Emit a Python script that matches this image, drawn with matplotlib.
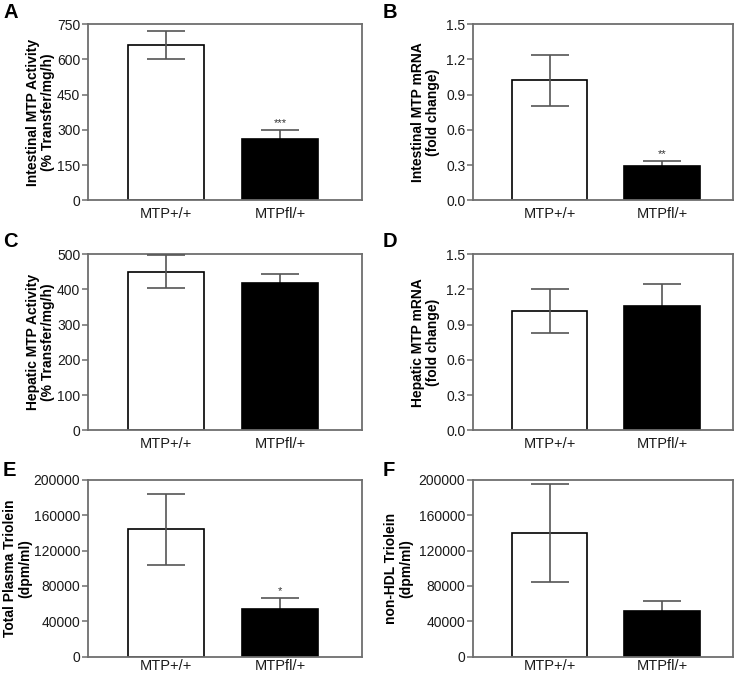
import numpy as np
import matplotlib.pyplot as plt

plt.rcParams['font.family'] = ['Liberation Sans', 'DejaVu Sans']

groups = ['MTP+/+', 'MTPfl/+']

# panel A: intestinal MTP activity
a_mean = [660, 262]
a_err = [60, 35]
# panel B: intestinal MTP mRNA
b_mean = [1.02, 0.295]
b_err = [0.22, 0.04]
# panel C: hepatic MTP activity
c_mean = [450, 418]
c_err = [46, 24]
# panel D: hepatic MTP mRNA
d_mean = [1.015, 1.06]
d_err = [0.185, 0.185]
# panel E: total plasma triolein
e_mean = [144000, 53500]
e_err = [40000, 13000]
# panel F: non-HDL triolein
f_mean = [139500, 51500]
f_err = [55500, 11500]

panels = [
    ('A', a_mean, a_err, 'Intestinal MTP Activity\n(% Transfer/mg/h)', [0, 150, 300, 450, 600, 750], '***'),
    ('B', b_mean, b_err, 'Intestinal MTP mRNA\n(fold change)', [0.0, 0.3, 0.6, 0.9, 1.2, 1.5], '**'),
    ('C', c_mean, c_err, 'Hepatic MTP Activity\n(% Transfer/mg/h)', [0, 100, 200, 300, 400, 500], ''),
    ('D', d_mean, d_err, 'Hepatic MTP mRNA\n(fold change)', [0.0, 0.3, 0.6, 0.9, 1.2, 1.5], ''),
    ('E', e_mean, e_err, 'Total Plasma Triolein\n(dpm/ml)', [0, 40000, 80000, 120000, 160000, 200000], '*'),
    ('F', f_mean, f_err, 'non-HDL Triolein\n(dpm/ml)', [0, 40000, 80000, 120000, 160000, 200000], ''),
]

W, H = 740, 677
fig = plt.figure(figsize=(W / 100, H / 100), dpi=100)

# pixel boxes
col_x = [(88, 362), (473, 733)]
row_y = [(24, 200.3), (254, 430.3), (480, 656.5)]
xlims = [(-0.684, 1.72), (-0.68, 1.63)]
letter_xy = [(3, 3), (383, 3), (3, 232), (383, 232), (3, 461), (383, 461)]
label_right = [55, 440, 55, 440, 32, 413]
xpad = [5, 5, 5, 5, 2, 2]

gray = '#6e6e6e'
for i, (lab, mean, err, ylab, ticks, star) in enumerate(panels):
    c, r = i % 2, i // 2
    x0, x1 = col_x[c]
    y0, y1 = row_y[r]
    ax = fig.add_axes([x0 / W, 1 - y1 / H, (x1 - x0) / W, (y1 - y0) / H])
    x = np.arange(2)
    ax.bar(x, mean, width=0.67, color=['white', 'black'], edgecolor='black', linewidth=1.2, zorder=2)
    for j in range(2):
        # error bar of the black bar sits behind it, so only its upper half shows
        ax.errorbar(x[j], mean[j], yerr=err[j], fmt='none', ecolor='#555555', elinewidth=1.2,
                    capsize=13.5, capthick=1.2, zorder=3 if j == 0 else 1)
    if star:
        ax.text(1, mean[1] + err[1] + ticks[-1] * 0.012, star, ha='center', va='bottom',
                fontsize=8, color='#333333')
    ax.set_xlim(*xlims[c])
    ax.set_ylim(0, ticks[-1])
    ax.set_yticks(ticks)
    if ticks[-1] == 1.5:
        ax.set_yticklabels(['%.1f' % t for t in ticks])
    else:
        ax.set_yticklabels(['%d' % t for t in ticks])
    ax.set_xticks(x)
    ax.set_xticklabels(groups)
    ax.tick_params(axis='x', length=0, pad=xpad[i], labelsize=10.5, labelcolor='#1a1a1a')
    ax.tick_params(axis='y', length=4.5, width=1.1, color=gray, labelsize=10,
                   labelcolor='#1a1a1a', pad=1)
    for s in ax.spines.values():
        s.set_color(gray)
        s.set_linewidth(1.3)
    ax.set_ylabel(ylab, fontsize=10, fontweight='bold', linespacing=1.05)
    ax.yaxis.set_label_coords((label_right[i] - x0) / (x1 - x0), 0.5)
    lx, ly = letter_xy[i]
    fig.text(lx / W, 1 - ly / H, lab, fontsize=14.5, fontweight='bold', ha='left', va='top')

fig.savefig('out.png', dpi=100)
